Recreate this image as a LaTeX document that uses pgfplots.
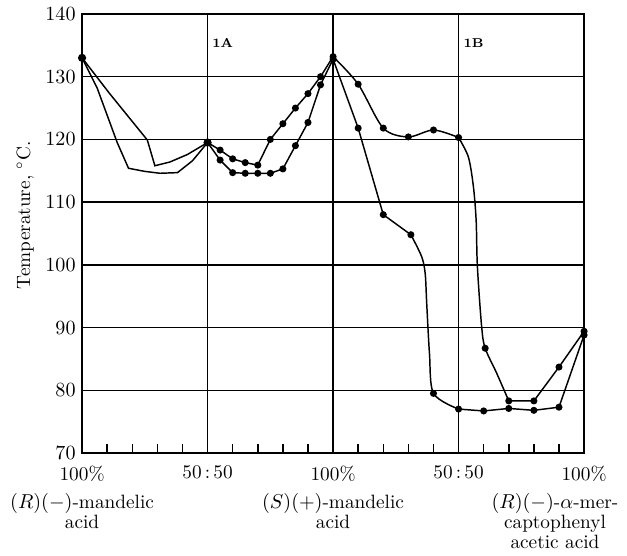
\documentclass[border=0pt]{standalone}
\usepackage{pgfplots}
\pgfplotsset{compat=1.18}
\begin{document}
\begin{tikzpicture}
\begin{axis}[
  scale only axis, width=9.608cm, height=8.402cm,
  xmin=0, xmax=20, ymin=70, ymax=140,
  clip=false,
  xtick={0,5,10,15,20},
  xticklabels={100\%,50\,:\,50,100\%,50\,:\,50,100\%},
  minor xtick={1,2,3,4,6,7,8,9,11,12,13,14,16,17,18,19},
  ytick={70,80,...,140},
  xtick pos=left, ytick pos=left,
  major tick length=0.17cm, minor tick length=0.17cm,
  tick style={black, line width=0.8pt},
  xmajorgrids, ymajorgrids,
  major grid style={black, line width=0.8pt},
  axis line style={line width=0.9pt},
  tick label style={font=\fontsize{10.5}{12}\selectfont},
  xticklabel style={yshift=-0.12cm},
  cycle list={{black,solid,mark=none}},
  every axis plot/.append style={black, line width=0.8pt},
]
% left part, (R)-mandelic / (S)-mandelic
\addplot coordinates {(0,133) (1.1,127.3) (2.6,119.9) (2.9,115.8) (3.5,116.4) (4.2,117.6) (5,119.5)};
\addplot coordinates {(0,133) (0.6,128.2) (1.4,119.5) (1.85,115.4) (2.5,114.9) (3.1,114.6) (3.8,114.7) (4.4,116.6) (5,119.5)};
\addplot[only marks, mark=*, mark size=1.8pt] coordinates {(0,133) (5,119.5)};
% 1A
\addplot[mark=*, mark size=1.5pt] coordinates {(5,119.5) (5.5,118.3) (6,116.9) (6.5,116.3) (7,115.9) (7.5,120.0) (8,122.5) (8.5,125.0) (9,127.3) (9.5,130.0) (10,133.2)};
\addplot[mark=*, mark size=1.5pt] coordinates {(5,119.5) (5.5,116.7) (6,114.7) (6.5,114.6) (7,114.6) (7.5,114.6) (8,115.3) (8.5,119.0) (9,122.7) (9.5,128.7) (10,132.8)};
% 1B upper
\addplot[smooth] coordinates {(10,133.2) (11,128.8) (12,121.8) (13,120.4) (14,121.5) (15,120.3)};
\addplot[smooth] coordinates {(15,120.3) (15.39,117.2) (15.59,112.5) (15.7,107.1) (15.75,99.7) (15.92,90.1) (16.06,86.7) (16.52,82.7) (17,78.3)};
\addplot coordinates {(17,78.3) (18,78.3) (19,83.7) (20,89.4)};
\addplot[only marks, mark=*, mark size=1.5pt] coordinates {(11,128.8) (12,121.8) (13,120.4) (14,121.5) (15,120.3) (16.06,86.7) (17,78.3) (18,78.3) (19,83.7) (20,89.4)};
% 1B lower
\addplot coordinates {(10,132.8) (11,121.8) (12,108.0) (13.1,104.8)};
\addplot[smooth] coordinates {(13.1,104.8) (13.53,101.3) (13.67,98.6) (13.73,93.9) (13.84,85.9) (14,79.5) (15,77.0)};
\addplot coordinates {(15,77.0) (16,76.7) (17,77.1) (18,76.8) (19,77.3) (20,88.8)};
\addplot[only marks, mark=*, mark size=1.5pt] coordinates {(11,121.8) (12,108.0) (13.1,104.8) (14,79.5) (15,77.0) (16,76.7) (17,77.1) (18,76.8) (19,77.3) (20,88.8)};
% labels
\node[font=\bfseries\scriptsize] at (axis cs:5.6,135.3) {1A};
\node[font=\bfseries\scriptsize] at (axis cs:15.6,135.3) {1B};
\node[rotate=90, font=\fontsize{10.5}{12}\selectfont] at (axis cs:-2.27,107.9) {Temperature, $^{\circ}$C.};
\node[anchor=north, align=center, font=\fontsize{10.5}{11}\selectfont] at (axis cs:0,64.6) {$(R)(-)$-mandelic\\acid};
\node[anchor=north, align=center, font=\fontsize{10.5}{11}\selectfont] at (axis cs:10,64.6) {$(S)(+)$-mandelic\\acid};
\node[anchor=north, align=center, font=\fontsize{10.5}{11}\selectfont] at (axis cs:18.84,64.6) {$(R)(-)$-$\alpha$-mer-\\captophenyl\\acetic acid};
\path (axis cs:-3.27,54.2) rectangle (axis cs:21.71,142.23);
\end{axis}
\end{tikzpicture}
\end{document}
